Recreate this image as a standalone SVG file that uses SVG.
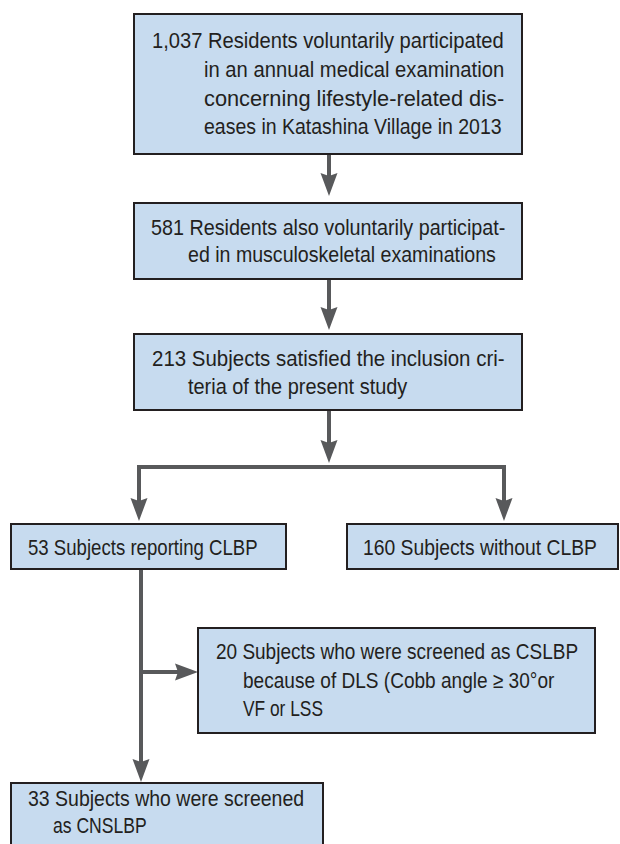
<svg xmlns="http://www.w3.org/2000/svg" width="620" height="844" viewBox="0 0 620 844">
<style>
.box{fill:#c7dbef;stroke:#231f20;stroke-width:2}
.t{font-family:"Liberation Sans Narrow","Liberation Sans",Arial,sans-serif;font-size:22px;fill:#231f20}
.c{fill:none;stroke:#58595b;stroke-width:4}
</style>
<defs>
<marker id="ah" markerUnits="userSpaceOnUse" markerWidth="26" markerHeight="20" refX="13" refY="9" orient="auto" viewBox="0 0 26 20">
<path d="M0,0.5 L23,9 L0,17.5 L3,9 Z" fill="#58595b"/>
</marker>
</defs>
<rect width="620" height="844" fill="#ffffff"/>
<g id="connectors">
<line class="c" x1="329" y1="154" x2="329" y2="186" marker-end="url(#ah)"/>
<line class="c" x1="329" y1="279" x2="329" y2="320" marker-end="url(#ah)"/>
<line class="c" x1="329" y1="410" x2="329" y2="453" marker-end="url(#ah)"/>
<polyline class="c" points="139,511 139,467 504,467 504,511"/>
<line class="c" x1="139" y1="510" x2="139" y2="511" marker-end="url(#ah)"/>
<line class="c" x1="504" y1="510" x2="504" y2="511" marker-end="url(#ah)"/>
<line class="c" x1="141" y1="569" x2="141" y2="772" marker-end="url(#ah)"/>
<line class="c" x1="141" y1="672" x2="188" y2="672" marker-end="url(#ah)"/>
</g>
<g id="n1">
<rect class="box" x="134" y="14" width="388" height="140"/>
<text class="t" transform="translate(152,48) scale(0.86,1)" textLength="409" lengthAdjust="spacingAndGlyphs">1,037 Residents voluntarily participated</text>
<text class="t" transform="translate(204,77) scale(0.86,1)" textLength="349" lengthAdjust="spacingAndGlyphs">in an annual medical examination</text>
<text class="t" transform="translate(204,105.5) scale(0.86,1)" textLength="349" lengthAdjust="spacingAndGlyphs">concerning lifestyle-related dis-</text>
<text class="t" transform="translate(204,134) scale(0.86,1)" textLength="346" lengthAdjust="spacingAndGlyphs">eases in Katashina Village in 2013</text>
</g>
<g id="n2">
<rect class="box" x="134" y="203" width="388" height="76"/>
<text class="t" transform="translate(151,235) scale(0.86,1)" textLength="412" lengthAdjust="spacingAndGlyphs">581 Residents also voluntarily participat-</text>
<text class="t" transform="translate(188,262) scale(0.86,1)" textLength="358" lengthAdjust="spacingAndGlyphs">ed in musculoskeletal examinations</text>
</g>
<g id="n3">
<rect class="box" x="134" y="334" width="388" height="76"/>
<text class="t" transform="translate(152,366) scale(0.86,1)" textLength="410" lengthAdjust="spacingAndGlyphs">213 Subjects satisfied the inclusion cri-</text>
<text class="t" transform="translate(188,394) scale(0.86,1)" textLength="255" lengthAdjust="spacingAndGlyphs">teria of the present study</text>
</g>
<g id="n4">
<rect class="box" x="11" y="524" width="275" height="45"/>
<text class="t" transform="translate(28,555) scale(0.86,1)" textLength="267" lengthAdjust="spacingAndGlyphs">53 Subjects reporting CLBP</text>
</g>
<g id="n5">
<rect class="box" x="347" y="524" width="271" height="45"/>
<text class="t" transform="translate(363,555) scale(0.86,1)" textLength="272" lengthAdjust="spacingAndGlyphs">160 Subjects without CLBP</text>
</g>
<g id="n6">
<rect class="box" x="198" y="628" width="397" height="105"/>
<text class="t" transform="translate(216,659) scale(0.86,1)" textLength="421" lengthAdjust="spacingAndGlyphs">20 Subjects who were screened as CSLBP</text>
<text class="t" transform="translate(243,688) scale(0.86,1)" textLength="362" lengthAdjust="spacingAndGlyphs">because of DLS (Cobb angle ≥ 30°or</text>
<text class="t" transform="translate(243,716) scale(0.86,1)" textLength="93" lengthAdjust="spacingAndGlyphs">VF or LSS</text>
</g>
<g id="n7">
<rect class="box" x="11" y="783" width="312" height="70"/>
<text class="t" transform="translate(28,806) scale(0.86,1)" textLength="321" lengthAdjust="spacingAndGlyphs">33 Subjects who were screened</text>
<text class="t" transform="translate(53,833) scale(0.86,1)" textLength="109" lengthAdjust="spacingAndGlyphs">as CNSLBP</text>
</g>
</svg>
